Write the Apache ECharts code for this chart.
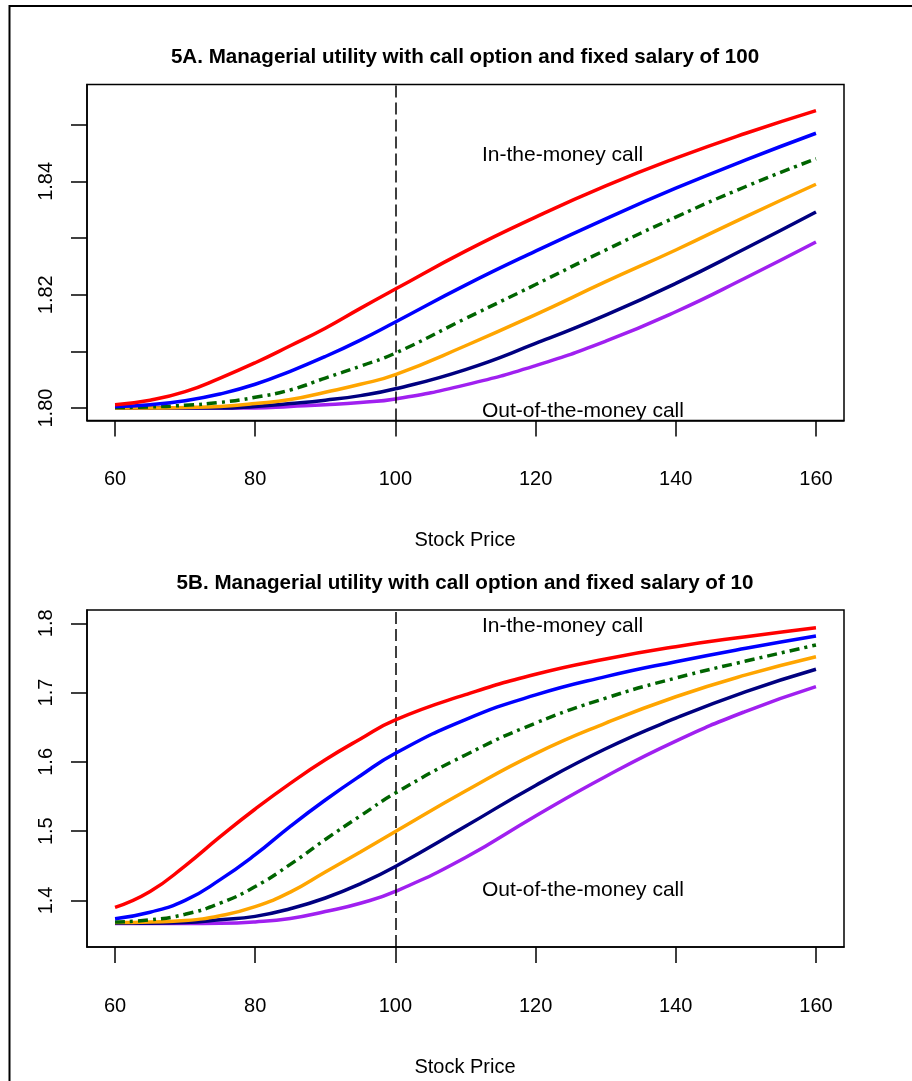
<!DOCTYPE html>
<html>
<head>
<meta charset="utf-8">
<script src="https://cdn.jsdelivr.net/npm/echarts@6/dist/echarts.min.js"></script>
<style>
  html, body { margin: 0; padding: 0; background: #fff; }
  #chart { width: 912px; height: 1081px; }
</style>
</head>
<body>
<div id="chart"></div>
<script>
// stock price grid (x)
const stockPrice = [60, 65, 70, 75, 80, 85, 90, 95, 100, 110, 120, 130, 140, 150, 160]
const xTicks = [60, 80, 100, 120, 140, 160]

// 5A: fixed salary of 100
const redA = [1.8006, 1.8014, 1.8029, 1.8053, 1.8080, 1.8110, 1.8141, 1.8176, 1.8210, 1.8277, 1.8337, 1.8392, 1.8441, 1.8485, 1.8525]
const blueA = [1.8003, 1.8006, 1.8013, 1.8025, 1.8042, 1.8065, 1.8091, 1.8120, 1.8152, 1.8217, 1.8277, 1.8334, 1.8388, 1.8438, 1.8485]
const greenA = [1.8001, 1.8002, 1.8005, 1.8010, 1.8019, 1.8032, 1.8053, 1.8074, 1.8097, 1.8158, 1.8218, 1.8279, 1.8337, 1.8391, 1.8440]
const orangeA = [1.8000, 1.8000, 1.8001, 1.8003, 1.8008, 1.8015, 1.8028, 1.8042, 1.8059, 1.8110, 1.8165, 1.8223, 1.8279, 1.8338, 1.8395]
const navyA = [1.8000, 1.8000, 1.8000, 1.8000, 1.8003, 1.8008, 1.8014, 1.8022, 1.8034, 1.8068, 1.8114, 1.8164, 1.8220, 1.8282, 1.8346]
const purpleA = [1.8000, 1.8000, 1.8000, 1.8000, 1.8000, 1.8003, 1.8006, 1.8010, 1.8016, 1.8041, 1.8075, 1.8118, 1.8170, 1.8230, 1.8293]
const yTicksA = [1.80, 1.81, 1.82, 1.83, 1.84, 1.85]
const yLabelsA = [1.80, 1.82, 1.84]

// 5B: fixed salary of 10
const redB = [1.390, 1.413, 1.450, 1.492, 1.532, 1.569, 1.603, 1.633, 1.6606, 1.6970, 1.7265, 1.7485, 1.7663, 1.7807, 1.7937]
const blueB = [1.3736, 1.383, 1.400, 1.430, 1.466, 1.507, 1.545, 1.580, 1.6125, 1.6610, 1.6966, 1.7230, 1.7446, 1.7640, 1.7817]
const greenB = [1.369, 1.372, 1.380, 1.396, 1.420, 1.452, 1.488, 1.522, 1.555, 1.6100, 1.6560, 1.6920, 1.7210, 1.7455, 1.7687]
const orangeB = [1.368, 1.369, 1.371, 1.378, 1.391, 1.412, 1.441, 1.470, 1.4995, 1.5580, 1.6120, 1.6560, 1.6940, 1.7255, 1.7518]
const navyB = [1.367, 1.367, 1.368, 1.372, 1.377, 1.388, 1.4035, 1.424, 1.449, 1.5070, 1.5660, 1.6190, 1.6630, 1.7014, 1.7337]
const purpleB = [1.3668, 1.3668, 1.3668, 1.367, 1.369, 1.374, 1.384, 1.396, 1.413, 1.4620, 1.5220, 1.5790, 1.6300, 1.6730, 1.7086]
const yTicksB = [1.4, 1.5, 1.6, 1.7, 1.8]

const FONT = '"Liberation Sans", Arial, sans-serif'

// R colours
const lineSet = [
  { color: '#FF0000', type: 'solid' },
  { color: '#0000FF', type: 'solid' },
  { color: '#006400', type: [10, 5, 3, 5] },
  { color: '#FFA500', type: 'solid' },
  { color: '#000080', type: 'solid' },
  { color: '#A020F0', type: 'solid' }
]

const pair = (ys) => stockPrice.map((x, i) => [x, ys[i]])

function makeSeries(list, gridIdx) {
  return list.map((ys, i) => {
    const s = {
      type: 'line',
      xAxisIndex: gridIdx,
      yAxisIndex: gridIdx,
      data: pair(ys),
      showSymbol: false,
      smooth: 0.5,
      silent: true,
      z: 3 + (list.length - i),
      lineStyle: { color: lineSet[i].color, width: 3.5, type: lineSet[i].type }
    }
    if (i === 0) {
      // dashed line at strike 100
      s.markLine = {
        silent: true,
        symbol: 'none',
        label: { show: false },
        lineStyle: { color: '#000', width: 1.5, type: [12, 5] },
        data: [{ xAxis: 100 }]
      }
    }
    return s
  })
}

function xAxisOf(gridIdx) {
  return {
    type: 'value',
    gridIndex: gridIdx,
    min: 56,
    max: 164,
    splitLine: { show: false },
    axisLine: { show: true, lineStyle: { color: '#000', width: 1.5 } },
    axisTick: { show: true, length: 16, inside: false, customValues: xTicks, lineStyle: { color: '#000', width: 1.5 } },
    axisLabel: { customValues: xTicks, margin: 49, color: '#000', fontSize: 20, fontFamily: FONT }
  }
}

function yAxisOf(gridIdx, min, max, ticks, labels, digits) {
  return {
    type: 'value',
    gridIndex: gridIdx,
    min: min,
    max: max,
    splitLine: { show: false },
    axisLine: { show: true, lineStyle: { color: '#000', width: 1.5 } },
    axisTick: { show: true, length: 16, inside: false, customValues: ticks, lineStyle: { color: '#000', width: 1.5 } },
    axisLabel: {
      customValues: labels,
      rotate: 90,
      margin: 31,
      color: '#000',
      fontSize: 20,
      fontFamily: FONT,
      formatter: (v) => v.toFixed(digits)
    }
  }
}

const chart = echarts.init(document.getElementById('chart'), null, { renderer: 'canvas' })

const txt = (x, y, text, opt) => ({
  type: 'text',
  x: x,
  y: y,
  silent: true,
  style: Object.assign({ text: text, fill: '#000', font: '20px ' + FONT, textAlign: 'center', textVerticalAlign: 'middle' }, opt || {})
})

chart.setOption({
  backgroundColor: '#fff',
  animation: false,
  grid: [
    { left: 87, top: 84.5, width: 757, height: 336, show: true, borderColor: '#000', borderWidth: 1.5, backgroundColor: 'transparent' },
    { left: 87, top: 610, width: 757, height: 337, show: true, borderColor: '#000', borderWidth: 1.5, backgroundColor: 'transparent' }
  ],
  xAxis: [xAxisOf(0), xAxisOf(1)],
  yAxis: [
    yAxisOf(0, 1.79781, 1.8571, yTicksA, yLabelsA, 2),
    yAxisOf(1, 1.3328, 1.8192, yTicksB, yTicksB, 1)
  ],
  series: makeSeries([redA, blueA, greenA, orangeA, navyA, purpleA], 0)
    .concat(makeSeries([redB, blueB, greenB, orangeB, navyB, purpleB], 1)),
  graphic: [
    // outer frame
    { type: 'rect', silent: true, shape: { x: 9.5, y: 6, width: 1000, height: 1200 }, style: { fill: 'none', stroke: '#000', lineWidth: 2 } },
    txt(465, 57, '5A. Managerial utility with call option and fixed salary of 100', { font: 'bold 20.6px ' + FONT }),
    txt(465, 583, '5B. Managerial utility with call option and fixed salary of 10', { font: 'bold 20.6px ' + FONT }),
    txt(465, 540, 'Stock Price'),
    txt(465, 1067, 'Stock Price'),
    txt(482, 155, 'In-the-money call', { textAlign: 'left', font: '21px ' + FONT }),
    txt(482, 411, 'Out-of-the-money call', { textAlign: 'left', font: '21px ' + FONT }),
    txt(482, 626, 'In-the-money call', { textAlign: 'left', font: '21px ' + FONT }),
    txt(482, 890, 'Out-of-the-money call', { textAlign: 'left', font: '21px ' + FONT })
  ]
})
</script>
</body>
</html>
